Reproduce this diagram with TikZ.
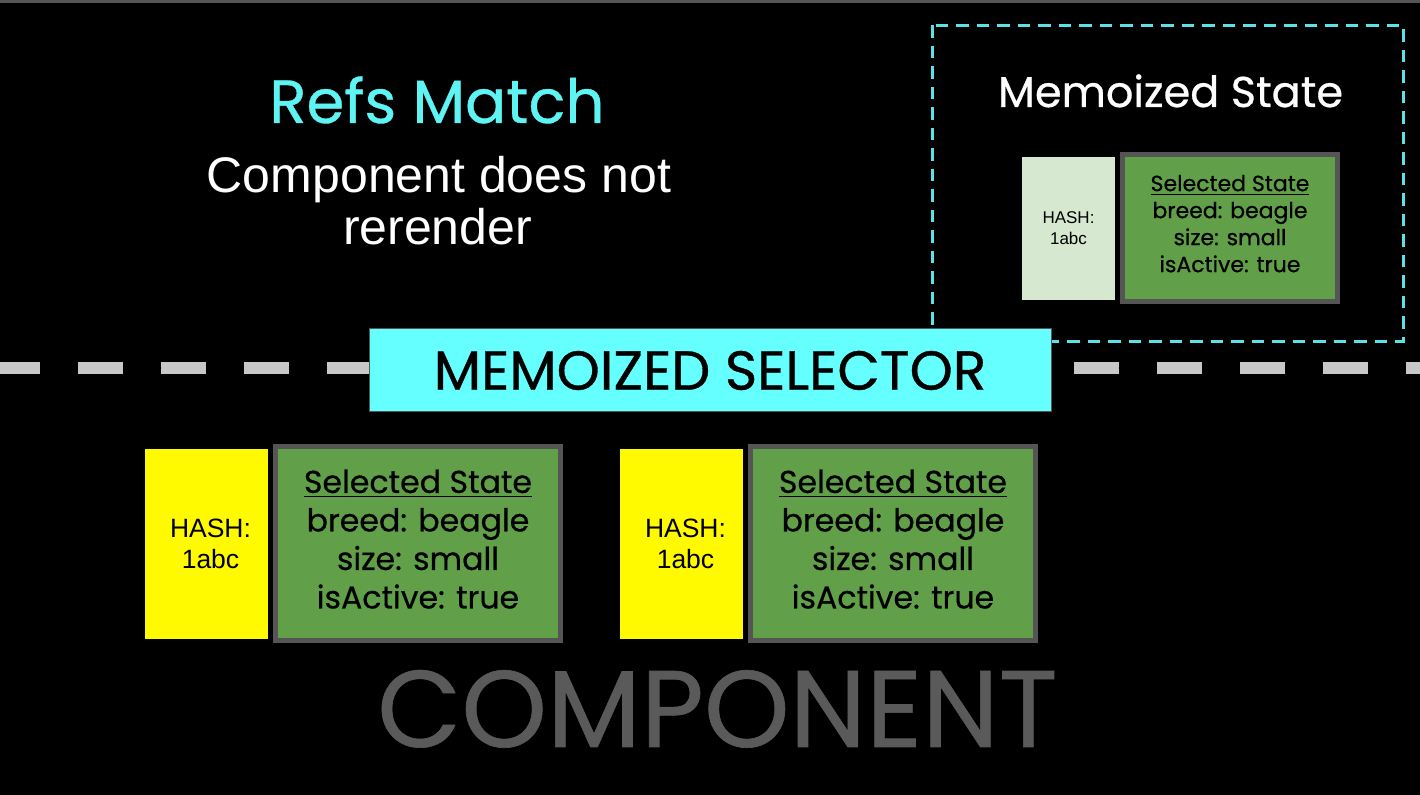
\documentclass[tikz,border=0pt]{standalone}
\usepackage{fontspec}
\setmainfont{Poppins}[FakeBold=0.6]
\newfontfamily\arialfont{Liberation Sans}
\usetikzlibrary{positioning}

\definecolor{refcyan}{RGB}{94,244,244}
\definecolor{boxcyan}{RGB}{102,255,255}
\definecolor{dashcyan}{RGB}{92,226,230}
\definecolor{stategreen}{RGB}{97,160,72}
\definecolor{stateborder}{RGB}{85,85,85}
\definecolor{hashpale}{RGB}{214,233,208}
\definecolor{hashyellow}{RGB}{255,250,0}
\definecolor{bandgrey}{RGB}{200,200,200}
\definecolor{compgrey}{RGB}{90,90,90}

\newcommand{\selstate}{\underline{Selected State}\\breed: beagle\\size: small\\isActive: true}

\begin{document}
\begin{tikzpicture}[x=0.5pt, y=-0.5pt,
    hashbox/.style={rectangle, inner sep=0, outer sep=0, align=center},
    statebox/.style={rectangle, inner sep=0, outer sep=0, align=center,
      fill=stategreen, draw=stateborder, line width=2.5pt}]
  \useasboundingbox (0,0) rectangle (1420,795);
  \fill[black] (0,0) rectangle (1420,795);
  \fill[stateborder] (0,0) rectangle (1420,3);

  % heading
  \node[text=refcyan, anchor=base, font=\fontsize{30.5}{35}\selectfont] (title) at (437,123) {Refs Match};
  \node[text=white, anchor=base, font=\arialfont\fontsize{25}{30}\selectfont] (subA) at (439,193) {Component does not};
  \node[text=white, anchor=base, font=\arialfont\fontsize{25}{30}\selectfont] (subB) at (437.5,245) {rerender};

  % memoized state
  \draw[dashcyan, line width=1.5pt, dash pattern=on 6.25pt off 4pt] (932,25.5) rectangle (1403,341.5);
  \node[text=white, anchor=base, font=\fontsize{21.5}{26}\selectfont] (memotitle) at (1170.5,107) {Memoized State};
  \node[hashbox, fill=hashpale, minimum width=46.5pt, minimum height=71.5pt,
    font=\arialfont\fontsize{8.5}{10.5}\selectfont] (memohash) at (1068.5,228.5) {HASH:\\1abc};
  \node[statebox, minimum width=107.5pt, minimum height=73.5pt, text depth=5pt,
    font=\fontsize{11}{13.5}\selectfont, right=3.75pt of memohash] (memostate) {\selstate};

  % selector
  \draw[bandgrey, line width=6pt, dash pattern=on 22.5pt off 19pt] (-5,368.5) -- (1425,368.5);
  \node[fill=boxcyan, draw=stateborder, line width=0.5pt, inner sep=0,
    minimum width=341pt, minimum height=41.5pt,
    font=\fontsize{27.5}{30}\selectfont] (selector) at (710,370.5) {MEMOIZED SELECTOR};

  % component
  \node[hashbox, fill=hashyellow, minimum width=61.5pt, minimum height=95pt,
    font=\arialfont\fontsize{13.25}{15.5}\selectfont] (hashA) at (206.5,544) {\hspace*{4pt}HASH:\\\hspace*{4pt}1abc};
  \node[statebox, minimum width=142.5pt, minimum height=97pt, text depth=5pt,
    font=\fontsize{15.8}{19.25}\selectfont, right=3.75pt of hashA] (stateA) {\selstate};
  \node[hashbox, fill=hashyellow, minimum width=61.5pt, minimum height=95pt,
    font=\arialfont\fontsize{13.25}{15.5}\selectfont, right=29.75pt of stateA] (hashB) {\hspace*{4pt}HASH:\\\hspace*{4pt}1abc};
  \node[statebox, minimum width=142.5pt, minimum height=97pt, text depth=5pt,
    font=\fontsize{15.8}{19.25}\selectfont, right=3.75pt of hashB] (stateB) {\selstate};
  \node[text=compgrey, anchor=base, font=\fontsize{54.5}{60}\selectfont] (component) at (717.5,747) {COMPONENT};
\end{tikzpicture}
\end{document}
